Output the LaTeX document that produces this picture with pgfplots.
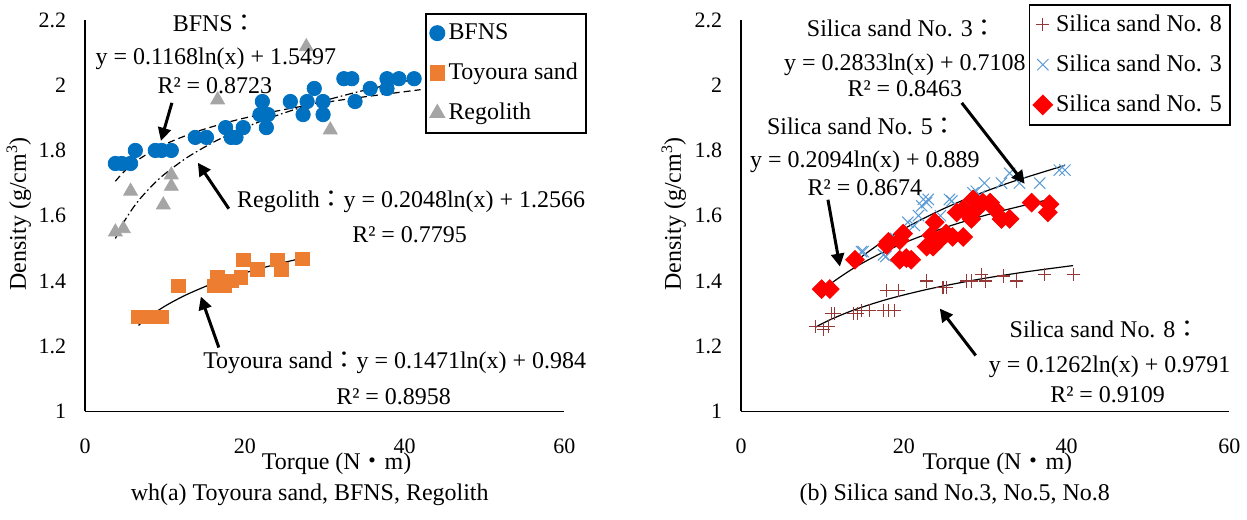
\documentclass[border=0pt]{standalone}
\usepackage{fontspec}
\setmainfont{Liberation Serif}
\newfontfamily\cjk{Noto Sans CJK JP}
\usepackage{pgfplots}
\pgfplotsset{compat=1.18}
\usetikzlibrary{arrows.meta}
\definecolor{cBF}{HTML}{0070C0}
\definecolor{cTO}{HTML}{ED7D31}
\definecolor{cRE}{HTML}{A5A5A5}
\definecolor{cS8}{HTML}{953735}
\definecolor{cS3}{HTML}{5B9BD5}
\definecolor{cS5}{HTML}{FF0000}
\newcommand{\zc}{{\cjk ：}}
\newcommand{\ann}{\fontsize{12}{14}\selectfont}
\newcommand{\tck}{\fontsize{11}{13}\selectfont}
\pgfplotsset{
  common/.style={
    scale only axis, height=196pt,
    xmin=0, xmax=60, ymin=1, ymax=2.2,
    axis x line*=bottom, axis y line*=left,
    axis line style={line width=0.8pt, black},
    major tick length=0pt,
    xtick={0,20,40,60}, xticklabels={0,20,40,60},
    ytick={1,1.2,1.4,1.6,1.8,2,2.2}, yticklabels={1,1.2,1.4,1.6,1.8,2,2.2},
    tick label style={font=\tck},
    xticklabel style={yshift=-10pt},
    yticklabel style={xshift=-6pt},
    xlabel={Torque (N{\cjk ・}m)},
    xlabel style={font=\ann, at={(axis description cs:0.525,0)}, anchor=center, yshift=-26pt},
    ylabel={Density (g/cm\textsuperscript{3})},
    ylabel style={font=\ann, at={(axis description cs:-0.138,0.505)}, anchor=center},
    legend style={draw=black, line width=0.8pt, fill=white, font=\ann,
      legend cell align=left, inner xsep=2pt, inner ysep=3pt, row sep=6.3pt},
  },
  onemark/.style={legend image code/.code={\draw[##1] plot coordinates {(0pt,0pt)};}},
}
\begin{document}
\begin{tikzpicture}
\begin{scope}[x=0.5pt,y=-0.5pt]
\path[use as bounding box] (0,0) rectangle (1247,520);
\end{scope}

% ---------------- left axis ----------------
\begin{axis}[common, at={(42pt,-206pt)}, anchor=south west, width=240pt,
  legend style={at={(axis description cs:0.71,1.018)}, anchor=north west}]
\addplot[only marks, mark=*, mark size=3.6pt, color=cBF, onemark] coordinates {
(3.8,1.76)(4.6,1.76)(5.7,1.76)(6.3,1.80)(8.8,1.80)(9.6,1.80)(10.8,1.80)
(13.8,1.84)(15.2,1.84)(17.6,1.87)(18.3,1.84)(18.9,1.84)(19.8,1.87)
(22.2,1.95)(21.9,1.91)(22.9,1.91)(22.7,1.87)(25.7,1.95)(27.8,1.95)(28.7,1.99)
(27.3,1.91)(29.8,1.95)(29.8,1.91)(32.4,2.02)(33.4,2.02)(33.8,1.95)(35.7,1.99)
(37.8,2.02)(39.3,2.02)(37.8,1.99)(41.2,2.02)(43.5,2.02)(45.0,2.03)
};
\addlegendentry{BFNS}
\addplot[only marks, mark=square*, mark size=3.4pt, color=cTO, onemark] coordinates {
(6.7,1.29)(8.2,1.29)(9.6,1.29)(11.7,1.385)(16.2,1.385)(17.5,1.385)(16.6,1.41)
(18.3,1.40)(19.5,1.41)(19.8,1.465)(21.6,1.435)(24.1,1.465)(24.6,1.435)(27.2,1.468)
};
\addlegendentry{Toyoura sand}
\addplot[only marks, mark=triangle*, mark size=4pt, color=cRE, onemark] coordinates {
(3.8,1.55)(4.8,1.56)(5.7,1.675)(9.8,1.633)(10.8,1.69)(10.8,1.725)(16.6,1.955)
(27.7,2.118)(30.7,1.863)
};
\addlegendentry{Regolith}
% trend lines (tabulated)
\addplot[forget plot, black, line width=0.6pt, smooth, dash pattern=on 3.5pt off 2pt] coordinates {
(3.8,1.7056)(5,1.7377)(7,1.7770)(10,1.8186)(14,1.8579)(19,1.8936)(25,1.9257)(32,1.9545)(42,1.9863)
};
\addplot[forget plot, black, line width=0.6pt, smooth, dash pattern=on 4pt off 1.5pt on 0.8pt off 1.5pt] coordinates {
(3.8,1.5300)(4.5,1.5646)(5,1.5862)(6,1.6236)(7,1.6551)(8.5,1.6949)(10,1.7282)(13,1.7819)(17,1.8368)(22,1.8896)(28,1.9390)(35,1.9847)(42,2.0221)
};
\addplot[forget plot, black, line width=0.6pt, smooth] coordinates {
(6.7,1.2638)(8,1.2899)(10,1.3227)(12.5,1.3555)(15.5,1.3872)(19,1.4171)(23,1.4452)(27.2,1.4699)
};
\end{axis}

% ---------------- right axis ----------------
\begin{axis}[common, at={(370.5pt,-206pt)}, anchor=south west, width=244.5pt,
  legend style={at={(axis description cs:0.589,1.041)}, anchor=north west}]
\addplot[only marks, mark=+, mark size=3.3pt, color=cS8, line width=0.6pt, onemark] coordinates {
(9.1,1.26)(10.1,1.25)(10.7,1.26)(11.1,1.30)(11.5,1.30)(13.8,1.30)(14.3,1.30)
(14.8,1.31)(15.8,1.31)(17.5,1.31)(18.1,1.31)(18.9,1.31)(17.9,1.37)(19.3,1.37)
(22.8,1.40)(24.8,1.38)(25.2,1.38)(27.7,1.40)(28.3,1.40)(29.5,1.42)(30.0,1.40)
(32.2,1.415)(33.8,1.40)(37.3,1.42)(40.8,1.42)
};
\addlegendentry{Silica sand No. 8}
\addplot[only marks, mark=x, mark size=4pt, color=cS3, line width=0.5pt, onemark] coordinates {
(14.8,1.49)(15.0,1.49)(17.5,1.48)(17.8,1.475)(19.0,1.53)(20.5,1.58)(21.3,1.57)
(21.8,1.60)(22.2,1.63)(22.4,1.65)(22.8,1.64)(23.0,1.65)(24.5,1.60)(25.6,1.65)
(25.9,1.645)(27.0,1.62)(28.5,1.67)(28.9,1.675)(29.9,1.70)(29.3,1.66)(32.0,1.70)
(33.0,1.73)(34.2,1.70)(36.7,1.70)(39.1,1.74)(39.8,1.74)
};
\addlegendentry{Silica sand No. 3}
\addplot[only marks, mark=square*, mark options={rotate=45}, mark size=3.3pt, color=cS5, onemark] coordinates {
(9.9,1.375)(10.9,1.375)(14.0,1.465)(17.9,1.51)(18.1,1.52)(19.5,1.525)(19.9,1.545)
(19.5,1.465)(20.3,1.47)(20.9,1.465)(22.8,1.505)(23.6,1.505)(23.4,1.54)(23.8,1.58)
(24.4,1.525)(25.2,1.545)(26.0,1.535)(27.3,1.535)(26.5,1.61)(27.3,1.62)(28.3,1.59)
(28.5,1.65)(28.9,1.62)(29.7,1.64)(30.6,1.64)(31.2,1.62)(32.0,1.59)(33.0,1.59)
(35.7,1.64)(37.9,1.635)(37.7,1.61)
};
\addlegendentry{Silica sand No. 5}
\addplot[forget plot, black, line width=0.6pt, smooth] coordinates {
(9.1,1.2578)(11,1.2817)(14,1.3122)(18,1.3439)(23,1.3748)(29,1.4041)(35,1.4278)(40.8,1.4471)
};
\addplot[forget plot, black, line width=0.6pt, smooth] coordinates {
(14.8,1.4742)(17,1.5134)(20,1.5595)(24,1.6111)(28,1.6548)(33,1.7014)(39.8,1.7544)
};
\addplot[forget plot, black, line width=0.6pt, smooth] coordinates {
(9.9,1.3691)(11.5,1.4004)(14,1.4416)(17,1.4823)(21,1.5265)(26,1.5713)(31.5,1.6114)(37.9,1.6502)
};
\end{axis}

% ---------------- annotations ----------------
\begin{scope}[x=0.5pt,y=-0.5pt, every node/.style={font=\ann, inner sep=0pt}]
\tikzset{arr/.style={line width=1.5pt, -{Triangle[length=6.5pt,width=6.5pt]}}}
% left
\node at (214,23) {BFNS\zc};
\node at (215,59) {y = 0.1168ln(x) + 1.5497};
\node at (214,86) {R² = 0.8723};
\draw[arr] (171,103) -- (160,141);
\node[anchor=west] at (236,202) {Regolith\zc y = 0.2048ln(x) + 1.2566};
\node at (409,235) {R² = 0.7795};
\draw[arr] (228,209) -- (197,163);
\node[anchor=west] at (202,363) {Toyoura sand\zc y = 0.1471ln(x) + 0.984};
\node at (393,397) {R² = 0.8958};
\draw[arr] (218,348) -- (200,297);
% right
\node at (902,28) {Silica sand No. 3\zc};
\node at (905,65) {y = 0.2833ln(x) + 0.7108};
\node at (905,89) {R² = 0.8463};
\draw[arr] (962,103) -- (1025,184);
\node at (862,127) {Silica sand No. 5\zc};
\node at (865,162) {y = 0.2094ln(x) + 0.889};
\node at (865,188) {R² = 0.8674};
\draw[arr] (828,200) -- (840,267);
\node at (1105,330) {Silica sand No. 8\zc};
\node at (1110,367) {y = 0.1262ln(x) + 0.9791};
\node at (1108,395) {R² = 0.9109};
\draw[arr] (976,356) -- (940,309);
% captions
\node at (309,495) {wh(a) Toyoura sand, BFNS, Regolith};
\node at (955,495) {(b) Silica sand No.3, No.5, No.8};
\end{scope}
\end{tikzpicture}
\end{document}
